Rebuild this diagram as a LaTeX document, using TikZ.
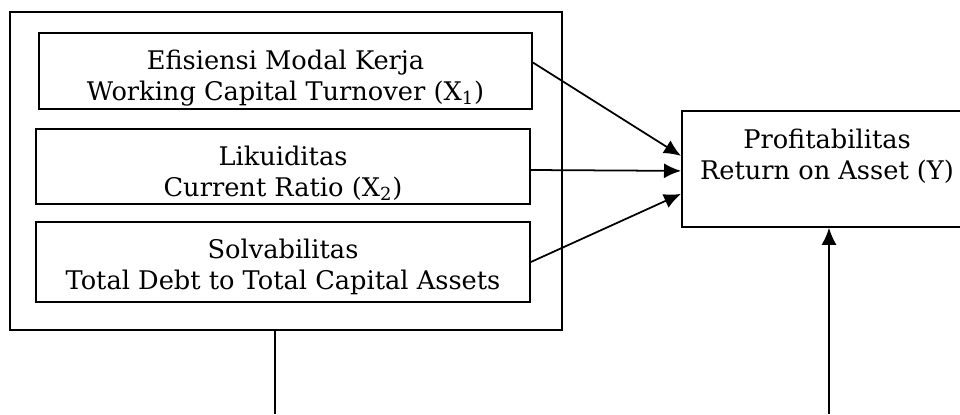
\documentclass[tikz,border=0pt]{standalone}
\usepackage{fontspec}
\setmainfont{DejaVu Serif}
\usetikzlibrary{positioning,arrows.meta}

\begin{document}
\begin{tikzpicture}[
		box/.style={draw, line width=1pt, align=center, inner sep=0pt, font=\fontsize{14.6}{17.6}\selectfont},
		arr/.style={-{Latex[length=0.34cm,width=0.3cm]}, line width=1pt}
	]
		\clip (0,0) rectangle (19.2,-8.28);

		\node(F)[box, minimum width=11.04cm, minimum height=6.36cm] at (5.72,-3.42){};
		\node(X1)[box, minimum width=9.86cm, minimum height=1.52cm] at (5.71,-1.42){\rule{0pt}{19pt}Efisiensi Modal Kerja\\Working Capital Turnover (X\textsubscript{1})};
		\node(X2)[box, minimum width=9.88cm, minimum height=1.5cm] at (5.66,-3.33){\rule{0pt}{19pt}Likuiditas\\Current Ratio (X\textsubscript{2})};
		\node(X3)[box, minimum width=9.88cm, minimum height=1.6cm] at (5.66,-5.24){\rule{0pt}{17pt}Solvabilitas\\Total Debt to Total Capital Assets};

		\node(Y)[box, minimum width=6.4cm, minimum height=2.32cm, anchor=north west] at (13.62,-2.2){};
		\node(YT)[box, draw=none, anchor=north] at (16.54,-2.56){Profitabilitas\\Return on Asset (Y)};

		\coordinate(FB) at (5.5,-8.28);
		\coordinate(YB) at (16.58,-8.28);

		\draw[arr] ([yshift=0.17cm]X1.east) -- ([yshift=0.26cm]Y.west);
		\draw[arr] ([yshift=-0.07cm]X2.east) -- ([yshift=-0.04cm]Y.west);
		\draw[arr] (X3.east) -- ([yshift=-0.5cm]Y.west);
		\draw[line width=1pt] (FB |- F.south) -- (FB);
		\draw[arr] (YB) -- (YB |- Y.south);
	\end{tikzpicture}
\end{document}
